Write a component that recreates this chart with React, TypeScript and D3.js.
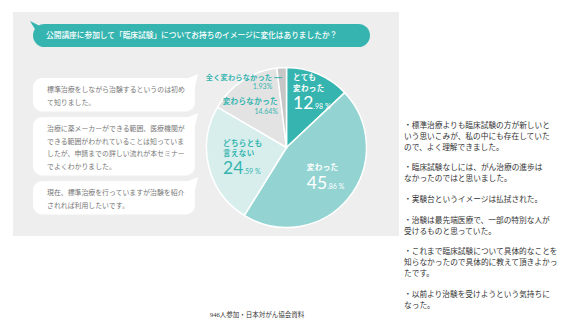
import * as d3 from 'd3';

const categories = ['とても変わった', '変わった', 'どちらとも言えない', '変わらなかった', '全く変わらなかった'];
const values = [12.98, 45.86, 24.59, 14.64, 1.93];
const sliceLabels = [['とても', '変わった'], ['変わった'], ['どちらとも', '言えない'], ['変わらなかった'], ['全く変わらなかった']];
const colors = ['#36b5b0', '#93d4d2', '#d7eeed', '#e3e3e3', '#c6c6c6'];

const title = '公開講座に参加して「臨床試験」についてお持ちのイメージに変化はありましたか？';

const comments = [
  ['標準治療をしながら治験するというのは初め', 'て知りました。'],
  [
    '治療に薬メーカーができる範囲、医療機関が',
    'できる範囲がわかれていることは知っていま',
    'したが、申請までの詳しい流れが本セミナー',
    'でよくわかりました。',
  ],
  ['現在、標準治療を行っていますが治験を紹介', 'されれば利用したいです。'],
];

const opinions = [
  ['・標準治療よりも臨床試験の方が新しいと', 'いう思いこみが、私の中にも存在していた', 'ので、よく理解できました。'],
  ['・臨床試験なしには、がん治療の進歩は', 'なかったのではと思いました。'],
  ['・実験台というイメージは払拭された。'],
  ['・治験は最先端医療で、一部の特別な人が', '受けるものと思っていた。'],
  ['・これまで臨床試験について具体的なことを', '知らなかったので具体的に教えて頂きよかっ', 'たです。'],
  ['・以前より治験を受けようという気持ちに', 'なった。'],
];

const footer = '946人参加・日本対がん協会資料';

const JP = '"Noto Sans CJK JP", "Noto Sans", sans-serif';
const NUM = 'Lato, "Open Sans", sans-serif';
const TEAL = '#36b5b0';

// label placement per slice: radius of anchor, offsets of the text block
const labelLayout = [
  { r: 58, dx: -16.5, top: -14.4, step: 10.8, num: 14.6, anchor: 'start', fill: '#fff', big: true },
  { r: 45, dx: -14.5, top: -5.5, step: 10.8, num: 12.6, anchor: 'start', fill: '#fff', big: true },
  { r: 45, dx: -19.8, top: -12.8, step: 10.8, num: 15.4, anchor: 'start', fill: TEAL, big: true },
  { r: 52, dx: 20, top: -0.2, step: 10.8, num: 10.2, anchor: 'end', fill: TEAL, big: false },
];

export default function App() {
  const width = 569;
  const height = 320;
  const cx = 286.5;
  const cy = 147.5;
  const radius = 80;

  const pie = d3.pie<number>().sort(null).value((d) => d)(values);
  const arc = d3.arc<d3.PieArcDatum<number>>().innerRadius(0).outerRadius(radius);

  // comment bubbles
  const lineH = 12.5;
  let by = 78;
  const bubbles = comments.map((lines) => {
    const h = lines.length * lineH + 8.5;
    const b = { y: by, h, lines };
    by += h + 5.5;
    return b;
  });

  // right-hand opinions
  let oy = 127.7;
  const opinionLines: { y: number; text: string }[] = [];
  opinions.forEach((para) => {
    para.forEach((t) => {
      opinionLines.push({ y: oy, text: t });
      oy += 11;
    });
    oy += 9.6;
  });

  const split = (v: number) => v.toFixed(2).split('.');

  return (
    <svg width={width} height={height} style={{ position: 'absolute', left: 0, top: 0, background: '#fff' }}>
      <rect x={13} y={12} width={386} height={224} fill="#eeeeee" />

      {/* title bubble */}
      <path d="M30,21 L40,26 L36,31 Z" fill={TEAL} />
      <rect x={33} y={24} width={337} height={23} rx={11.5} fill={TEAL} />
      <text x={46} y={38.2} fill="#fff" fontFamily={JP} fontSize={7.7} fontWeight={500}>
        {title}
      </text>

      {/* comment bubbles */}
      {bubbles.map((b, i) => (
        <g key={i}>
          <path d={`M186,${b.y + 1} L198,${b.y - 4} L195,${b.y + 9} Z`} fill="#fff" />
          <rect x={33} y={b.y} width={162} height={b.h} rx={9} fill="#fff" />
          {b.lines.map((t, j) => (
            <text key={j} x={47} y={b.y + 14 + j * lineH} fill="#777" fontFamily={JP} fontSize={6.9}>
              {t}
            </text>
          ))}
        </g>
      ))}

      {/* pie */}
      <g transform={`translate(${cx},${cy})`}>
        {pie.map((d, i) => (
          <path key={categories[i]} d={arc(d) ?? ''} fill={colors[i]} stroke="#fff" strokeWidth={1.5} />
        ))}
        {pie.slice(0, 4).map((d, i) => {
          const L = labelLayout[i];
          const [px, py] = d3.arc<d3.PieArcDatum<number>>().innerRadius(L.r).outerRadius(L.r).centroid(d);
          const [ip, dp] = split(values[i]);
          return (
            <g key={i} transform={`translate(${px + L.dx},${py})`} fill={L.fill} fontFamily={JP}>
              <text y={L.top} fontSize={7.5} fontWeight={700} textAnchor={L.anchor} letterSpacing={0.4}>
                {sliceLabels[i].map((t, j) => (
                  <tspan key={j} x={0} dy={j === 0 ? 0 : L.step}>
                    {t}
                  </tspan>
                ))}
              </text>
              {L.big ? (
                <text y={L.num} fontFamily={NUM} textAnchor={L.anchor}>
                  <tspan fontSize={17.5} fontWeight={400}>{ip}</tspan>
                  <tspan fontSize={7}>.{dp} %</tspan>
                </text>
              ) : (
                <text y={L.num} fontFamily={NUM} fontSize={7} textAnchor={L.anchor}>
                  {ip}.{dp}%
                </text>
              )}
            </g>
          );
        })}
        {(() => {
          const d = pie[4];
          const [px, py] = d3.arc<d3.PieArcDatum<number>>().innerRadius(70).outerRadius(70).centroid(d);
          const [ip, dp] = split(values[4]);
          return (
            <g fill={TEAL}>
              <line x1={px} y1={py} x2={px - 8} y2={py} stroke={TEAL} strokeWidth={1} />
              <text x={px - 10} y={py + 2.5} textAnchor="end" fontFamily={JP} fontSize={7.2} fontWeight={700} letterSpacing={0.2}>
                {sliceLabels[4][0]}
              </text>
              <text x={px - 10} y={py + 11.2} textAnchor="end" fontFamily={NUM} fontSize={7}>
                {ip}.{dp}%
              </text>
            </g>
          );
        })()}
      </g>

      {/* opinions */}
      {opinionLines.map((l, i) => (
        <text key={i} x={404} y={l.y} fill="#333" fontFamily={JP} fontSize={7.7}>
          {l.text}
        </text>
      ))}

      <text x={210} y={317} fill="#333" fontFamily={`"Liberation Serif", "Noto Sans CJK JP", serif`} fontSize={6.5}>
        {footer}
      </text>
    </svg>
  );
}
